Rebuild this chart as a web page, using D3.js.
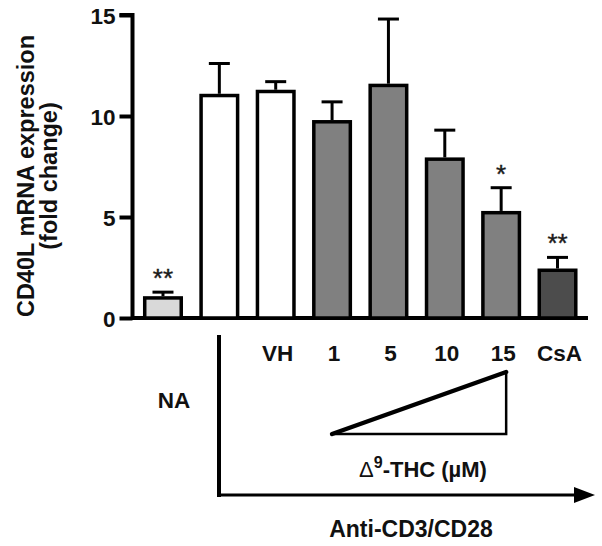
<!DOCTYPE html>
<html><head><meta charset="utf-8">
<script src="https://cdn.jsdelivr.net/npm/d3@7"></script>
<style>
html,body{margin:0;padding:0;background:#fff;}
text{font-family:"Liberation Sans",Arial,sans-serif;}
</style></head>
<body><svg id="c" width="602" height="546"></svg>
<script>
const categories = ["NA","Stim","VH","1","5","10","15","CsA"];
const catLabels = ["","","VH","1","5","10","15","CsA"];
const means = [1.08, 11.1, 11.3, 9.8, 11.6, 7.95, 5.3, 2.45];
const errTops = [1.28, 12.6, 11.7, 10.7, 14.8, 9.3, 6.45, 3.0];
const signif = ["**","","","","","","*","**"];
const fills = ["#d9d9d9","#ffffff","#ffffff","#808080","#808080","#808080","#808080","#4c4c4c"];
const yTicks = [0,5,10,15];

const svg = d3.select("#c");
const x = d3.scaleBand().domain(categories).range([134.8, 585.7]).paddingInner(0.29).paddingOuter(0.145);
const y = d3.scaleLinear().domain([0,15]).range([318,15]);

// y axis
const yAxis = d3.axisLeft(y).tickValues(yTicks).tickSize(13).tickPadding(4).tickFormat(d3.format("d"));
const ga = svg.append("g").attr("transform","translate(132.5,0)").call(yAxis);
ga.select(".domain").attr("stroke","#000").attr("stroke-width",4).attr("d","M-13,"+y(15)+"H0V"+(y(0)+2));
ga.selectAll(".tick line").attr("stroke","#000").attr("stroke-width",4);
ga.selectAll(".tick text").attr("fill","#111").style("font-size","22.5px").style("font-weight","bold").attr("dy","0.36em");

// baseline
svg.append("line").attr("x1",131).attr("x2",588).attr("y1",y(0)).attr("y2",y(0)).attr("stroke","#000").attr("stroke-width",4);

// error bars
const eg = svg.append("g");
categories.forEach((c,i)=>{
  const cx = x(c)+x.bandwidth()/2;
  eg.append("line").attr("x1",cx).attr("x2",cx).attr("y1",y(means[i])).attr("y2",y(errTops[i])).attr("stroke","#000").attr("stroke-width",3);
  eg.append("line").attr("x1",cx-10.5).attr("x2",cx+10.5).attr("y1",y(errTops[i])).attr("y2",y(errTops[i])).attr("stroke","#000").attr("stroke-width",3);
});

// bars
svg.append("g").selectAll("rect").data(categories).join("rect")
  .attr("x",d=>x(d)+1.75).attr("width",x.bandwidth()-3.5)
  .attr("y",(d,i)=>y(means[i])+1.75).attr("height",(d,i)=>y(0)-y(means[i])-1.75)
  .attr("fill",(d,i)=>fills[i]).attr("stroke","#000").attr("stroke-width",3.5);

// significance
svg.append("g").selectAll("text").data(categories).join("text")
  .attr("x",d=>x(d)+x.bandwidth()/2).attr("y",(d,i)=>y(errTops[i])-5)
  .attr("text-anchor","middle").style("font-size","26px").attr("fill","#1a1a1a")
  .attr("stroke","#1a1a1a").attr("stroke-width",0.4)
  .text((d,i)=>signif[i]);

// category labels
svg.append("g").selectAll("text").data(categories).join("text")
  .attr("x",d=>x(d)+x.bandwidth()/2+2).attr("y",361)
  .attr("text-anchor","middle").style("font-size","22.5px").style("font-weight","bold").attr("fill","#111")
  .text((d,i)=>catLabels[i]);

// y title
const yt = svg.append("text").attr("transform","translate(34,176) rotate(-90)").attr("text-anchor","middle")
  .style("font-size","23.5px").style("font-weight","bold").attr("fill","#111");
yt.append("tspan").attr("x",0).attr("y",0).text("CD40L mRNA expression");
yt.append("tspan").attr("x",0).attr("y",23).text("(fold change)");

// NA label
svg.append("text").attr("x",174).attr("y",408).attr("text-anchor","middle").style("font-size","22.5px").style("font-weight","bold").attr("fill","#111").text("NA");

// stimulation bracket + arrow
svg.append("line").attr("x1",219).attr("x2",219).attr("y1",335).attr("y2",497).attr("stroke","#000").attr("stroke-width",4);
svg.append("line").attr("x1",217).attr("x2",578).attr("y1",495).attr("y2",495).attr("stroke","#000").attr("stroke-width",3);
svg.append("path").attr("d","M574,487L595,495L574,503Z").attr("fill","#000");

// dose triangle
const x1 = x("1")+x.bandwidth()/2, x15 = x("15")+x.bandwidth()/2+5;
svg.append("path").attr("d",`M${x1},434H${x15}V372`).attr("fill","none").attr("stroke","#000").attr("stroke-width",2.5);
svg.append("line").attr("x1",x1).attr("y1",434).attr("x2",x15).attr("y2",372).attr("stroke","#000").attr("stroke-width",4.5).attr("stroke-linecap","round");

// THC label
const th = svg.append("text").attr("x",423).attr("y",477).attr("text-anchor","middle").style("font-size","22px").style("font-weight","bold").attr("fill","#111");
th.append("tspan").style("font-weight","normal").text("\u0394");
th.append("tspan").attr("dy",-9).style("font-size","16px").text("9");
th.append("tspan").attr("dy",9).text("-THC (\u00b5M)");

// Anti-CD3/CD28
svg.append("text").attr("x",411).attr("y",537).attr("text-anchor","middle").style("font-size","23px").style("font-weight","bold").attr("fill","#111").text("Anti-CD3/CD28");
</script></body></html>
